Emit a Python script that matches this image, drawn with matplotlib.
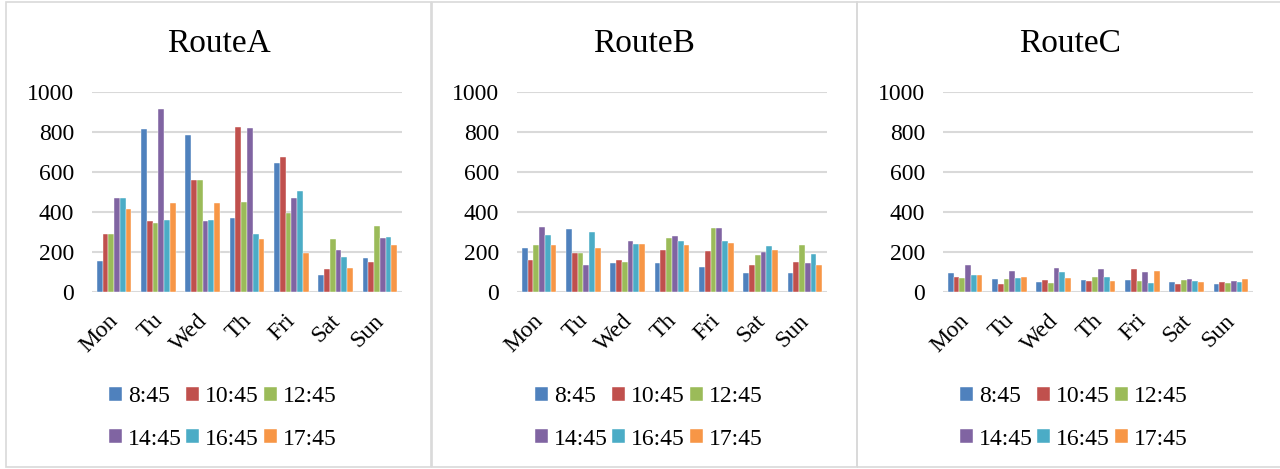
import numpy as np
import matplotlib.pyplot as plt
from matplotlib.patches import Rectangle
from matplotlib.transforms import ScaledTranslation

days = ["Mon", "Tu", "Wed", "Th", "Fri", "Sat", "Sun"]
times = ["8:45", "10:45", "12:45", "14:45", "16:45", "17:45"]
colors = ["#4F81BD", "#C0504D", "#9BBB59", "#8064A2", "#4BACC6", "#F79646"]
routes = ["RouteA", "RouteB", "RouteC"]

# rows = time slots, columns = days
route_a = [
    [157, 813, 785, 372, 643, 87, 172],
    [293, 357, 558, 822, 672, 117, 152],
    [290, 345, 558, 448, 393, 267, 333],
    [472, 912, 355, 820, 472, 212, 270],
    [472, 358, 362, 293, 507, 177, 275],
    [413, 445, 443, 265, 198, 122, 237],
]
route_b = [
    [223, 315, 145, 145, 128, 95, 95],
    [163, 198, 160, 210, 207, 137, 153],
    [235, 198, 150, 270, 322, 187, 235],
    [325, 137, 257, 282, 323, 202, 147],
    [285, 302, 243, 258, 258, 232, 193],
    [237, 223, 240, 235, 247, 210, 138],
]
route_c = [
    [95, 65, 53, 60, 60, 50, 43],
    [75, 43, 60, 57, 115, 42, 50],
    [73, 65, 47, 77, 55, 60, 45],
    [138, 105, 123, 115, 100, 65, 58],
    [87, 72, 100, 77, 48, 55, 53],
    [88, 77, 73, 57, 107, 50, 65],
]
all_data = [route_a, route_b, route_c]

plt.rcParams['font.family'] = ['Liberation Serif', 'DejaVu Serif']

W, H = 1280, 469
fig = plt.figure(figsize=(W / 100, H / 100), dpi=100)

panel_x = [6, 432, 857]
panel_w = 425
plot_left = [92, 517, 943]
plot_w = 310
plot_top, plot_bot = 91.7, 292.3

x = np.arange(len(days))
bw = 0.13
# legend fills column-wise; reorder so it reads row-wise like the original
order = [0, 3, 1, 4, 2, 5]

for p in range(3):
    # panel frame
    fig.patches.append(Rectangle((panel_x[p] / W, 2 / H), panel_w / W, (H - 4) / H,
                                 transform=fig.transFigure, fill=False,
                                 edgecolor="#D9D9D9", linewidth=1.2))
    ax = fig.add_axes([plot_left[p] / W, 1 - plot_bot / H,
                       plot_w / W, (plot_bot - plot_top) / H])
    data = all_data[p]
    handles = []
    for i, t in enumerate(times):
        b = ax.bar(x + (i - 2.5) * bw, data[i], bw, color=colors[i],
                   edgecolor="white", linewidth=0.3, label=t, zorder=3)
        handles.append(b)
    ax.set_xlim(-0.5, len(days) - 0.5)
    ax.set_ylim(0, 1000)
    ax.set_yticks(range(0, 1001, 200))
    ax.yaxis.grid(True, color="#D9D9D9", linewidth=1.5, zorder=0)
    ax.set_axisbelow(True)
    for s in ax.spines.values():
        s.set_visible(False)
    ax.tick_params(axis="y", length=0, pad=13, labelsize=17)
    ax.tick_params(axis="x", length=0, pad=21, labelsize=17)
    ax.set_xticks(x)
    ax.set_xticklabels(days, rotation=45, ha="right", va="baseline",
                       rotation_mode="anchor")
    shift = ScaledTranslation(5 / 100, 0, fig.dpi_scale_trans)
    for lab in ax.get_xticklabels():
        lab.set_transform(lab.get_transform() + shift)
    cx = (panel_x[p] + panel_w / 2) / W
    fig.text(cx, 1 - 52 / H, routes[p], ha="center", va="baseline", fontsize=24)
    fig.legend(handles=[handles[k] for k in order],
               labels=[times[k] for k in order], ncol=3, loc="center",
               bbox_to_anchor=(cx + 4 / W, 1 - 418 / H), frameon=False,
               fontsize=17, handlelength=0.55, handleheight=0.55,
               handletextpad=0.25, columnspacing=0.2, labelspacing=0.9,
               borderpad=0)

fig.savefig("out.png", dpi=100)
